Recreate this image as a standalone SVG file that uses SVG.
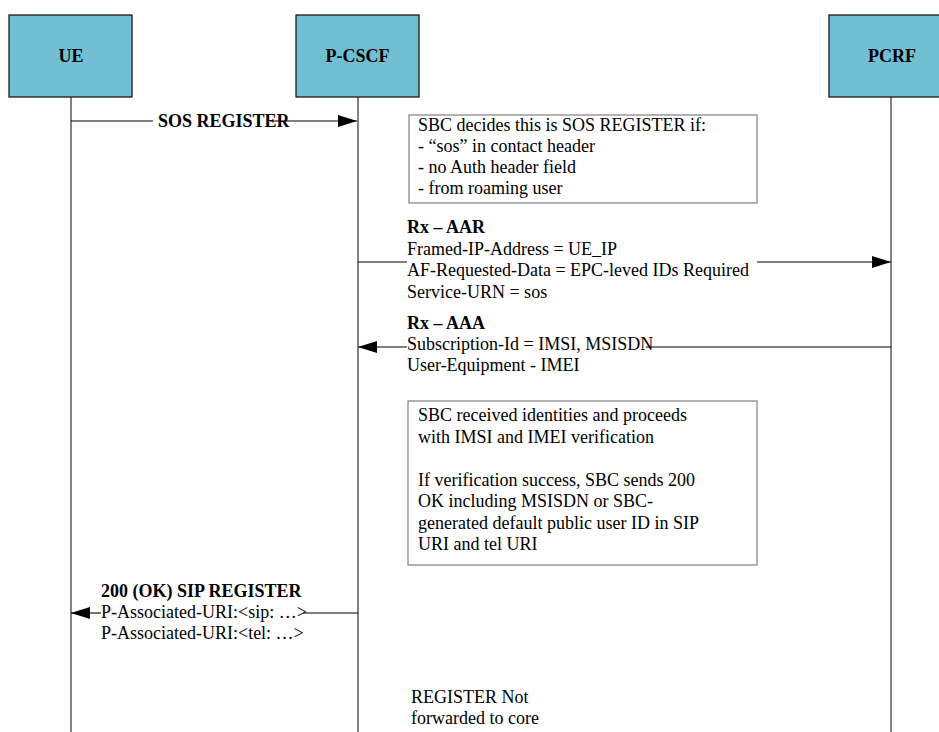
<svg xmlns="http://www.w3.org/2000/svg" width="939" height="732" viewBox="0 0 939 732">
<style>
.head{fill:#72bfd3;stroke:#1a1a1a;stroke-width:1.3}
.htxt{font-family:"Liberation Serif","Times New Roman",serif;font-size:18px;font-weight:bold;fill:#000;text-anchor:middle}
.life{stroke:#5a5a5a;stroke-width:1.5;fill:none}
.note{fill:#fff;stroke:#8a8a8a;stroke-width:1.3}
.t{font-family:"Liberation Serif","Times New Roman",serif;font-size:18px;fill:#000}
.b{font-weight:bold}
.msg{stroke:#000;stroke-width:1.1;fill:none}
</style>
<defs>
<marker id="ah" markerUnits="userSpaceOnUse" markerWidth="19" markerHeight="12" refX="19" refY="6" orient="auto">
<path d="M0,0 L19,6 L0,12 z" fill="#000"/>
</marker>
</defs>
<rect width="939" height="732" fill="#fff"/>

<g id="UE">
<line class="life" x1="71" y1="97" x2="71" y2="732"/>
<rect class="head" x="9" y="15" width="123" height="82"/>
<text class="htxt" x="71" y="62">UE</text>
</g>
<g id="P-CSCF">
<line class="life" x1="358" y1="97" x2="358" y2="732"/>
<rect class="head" x="296" y="15" width="123" height="82"/>
<text class="htxt" x="357.5" y="62">P-CSCF</text>
</g>
<g id="PCRF">
<line class="life" x1="891" y1="97" x2="891" y2="732"/>
<rect class="head" x="829" y="15" width="123" height="82"/>
<text class="htxt" x="892" y="62">PCRF</text>
</g>

<g id="note1">
<rect class="note" x="409" y="115" width="348" height="88"/>
<text class="t" x="418" y="131">SBC decides this is SOS REGISTER if:</text>
<text class="t" x="418" y="152">- “sos” in contact header</text>
<text class="t" x="418" y="173">- no Auth header field</text>
<text class="t" x="418" y="194">- from roaming user</text>
</g>

<g id="note2">
<rect class="note" x="408" y="401" width="349" height="164"/>
<text class="t" x="418" y="421">SBC received identities and proceeds</text>
<text class="t" x="418" y="442.5">with IMSI and IMEI verification</text>
<text class="t" x="418" y="485.5">If verification success, SBC sends 200</text>
<text class="t" x="418" y="507">OK including MSISDN or SBC-</text>
<text class="t" x="418" y="528.5">generated default public user ID in SIP</text>
<text class="t" x="418" y="550">URI and tel URI</text>
</g>

<g id="note3">
<text class="t" x="411" y="703">REGISTER Not</text>
<text class="t" x="411" y="724">forwarded to core</text>
</g>

<g id="connectors">
<line class="msg" x1="71" y1="121" x2="153" y2="121"/>
<line class="msg" x1="270" y1="121" x2="357" y2="121" marker-end="url(#ah)"/>

<line class="msg" x1="358" y1="262" x2="407" y2="262"/>
<line class="msg" x1="757" y1="262" x2="891" y2="262" marker-end="url(#ah)"/>

<line class="msg" x1="891" y1="347" x2="646" y2="347"/>
<line class="msg" x1="407" y1="347" x2="358" y2="347" marker-end="url(#ah)"/>

<line class="msg" x1="358" y1="613" x2="303" y2="613"/>
<line class="msg" x1="101" y1="613" x2="71" y2="613" marker-end="url(#ah)"/>
</g>

<g id="labels">
<text class="t b" x="158" y="127">SOS REGISTER</text>
<text class="t b" x="407" y="233">Rx – AAR</text>
<text class="t" x="407" y="255">Framed-IP-Address = UE_IP</text>
<text class="t" x="407" y="276">AF-Requested-Data = EPC-leved IDs Required</text>
<text class="t" x="407" y="297.5">Service-URN = sos</text>
<text class="t b" x="407" y="329">Rx – AAA</text>
<text class="t" x="407" y="350">Subscription-Id = IMSI, MSISDN</text>
<text class="t" x="407" y="371">User-Equipment - IMEI</text>
<text class="t b" x="101" y="597">200 (OK) SIP REGISTER</text>
<text class="t" x="101" y="618">P-Associated-URI:&lt;sip: …&gt;</text>
<text class="t" x="101" y="639">P-Associated-URI:&lt;tel: …&gt;</text>
</g>
</svg>
